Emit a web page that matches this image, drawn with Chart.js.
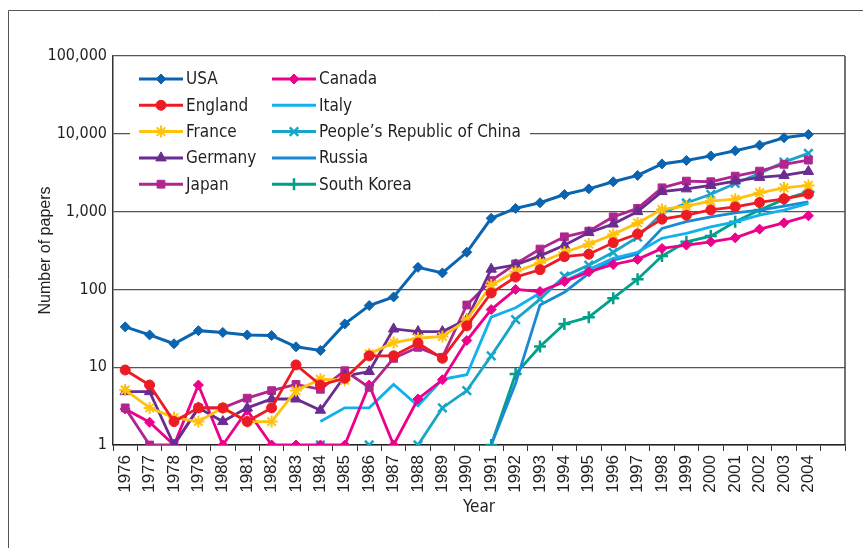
<!DOCTYPE html>
<html>
<head>
<meta charset="utf-8">
<script src="https://cdn.jsdelivr.net/npm/chart.js@4.4.1/dist/chart.umd.min.js"></script>
<style>
html, body { margin: 0; padding: 0; background: #fff; }
</style>
</head>
<body>
<canvas id="grafico" width="863" height="548"></canvas>
<script>
// Datos (1976-2004, la ultima categoria va vacia)
const anios = ['1976','1977','1978','1979','1980','1981','1982','1983','1984','1985','1986','1987','1988','1989','1990',
  '1991','1992','1993','1994','1995','1996','1997','1998','1999','2000','2001','2002','2003','2004',''];

const usa = [33, 26, 20, 29.5, 28, 26, 25.5, 18.3, 16.4, 36, 62, 80, 192, 163, 300,
  820, 1100, 1300, 1660, 1960, 2420, 2920, 4100, 4550, 5200, 6050, 7150, 8900, 9800];
const england = [9.2, 5.9, 2, 3, 3, 2, 3, 10.7, 5.9, 7.2, 14, 14, 20.4, 13, 34,
  90, 144, 179, 263, 283, 398, 515, 800, 900, 1050, 1150, 1310, 1460, 1680];
const france = [5.1, 3, 2.25, 2, 3, 2, 2, 5, 7, 6.8, 14.8, 20.7, 23.6, 24.8, 40.6,
  114, 170, 220, 300, 382, 507, 716, 1065, 1175, 1365, 1445, 1745, 2024, 2170];
const germany = [4.85, 4.85, 1, 3, 2, 3, 3.9, 3.9, 2.8, 7.7, 8.8, 31, 28.7, 28.7, 41,
  182, 207, 270, 369, 537, 692, 1000, 1810, 1960, 2170, 2470, 2750, 2920, 3280];
const japan = [3, 1, 1, 3, 3, 4, 5, 6, 5.2, 9, 5.5, 13, 18, 13.4, 63,
  130, 213, 330, 474, 561, 857, 1099, 2023, 2466, 2420, 2860, 3315, 4050, 4590];
const canada = [2.9, 1.96, 1, 5.9, 1, 2.8, 1, 1, 1, 1, 5.9, 1, 3.9, 6.9, 22,
  55, 100, 94, 126, 168, 209, 243, 336, 371, 409, 460, 595, 717, 883];
const italy = [null, null, null, null, null, null, null, null, 2, 3, 3, 6, 3.2, 7, 8,
  44, 58, 90, 128, 180, 250, 300, 455, 525, 638, 740, 900, 1046, 1274];
const china = [null, null, null, null, null, null, null, null, 1, null, 1, null, 1, 3, 5,
  14, 41, 75, 148, 205, 300, 470, 950, 1290, 1670, 2300, 3100, 4330, 5600];
const russia = [null, null, null, null, null, null, null, null, null, null, null, null, null, null, null,
  1, 6.2, 63, 92, 161, 238, 285, 608, 741, 857, 965, 1045, 1175, 1336];
const southKorea = [null, null, null, null, null, null, null, null, null, null, null, null, null, null, null,
  1, 8.2, 18.4, 36, 44, 77, 135, 268, 409, 484, 741, 1046, 1435, 1800];

const marcasY = [1, 10, 100, 1000, 10000, 100000];
const etiquetasY = ['1', '10', '100', '1,000', '10,000', '100,000'];

const estrecha = '"DejaVu Sans Condensed", sans-serif';
const normal = '"Liberation Sans", Arial, sans-serif';

function serie(nombre, datos, color, estilo, radio, borde) {
    return {
        label: nombre,
        data: datos,
        borderColor: color,
        backgroundColor: color,
        borderWidth: 2.8,
        pointStyle: estilo,
        pointRadius: radio,
        pointBorderWidth: borde,
        pointBackgroundColor: color,
        pointBorderColor: color,
        tension: 0,
        spanGaps: false
    };
}

// leyenda en dos columnas, dentro del area del grafico
const leyendaPlugin = {
    id: 'leyenda',
    afterDraw(chart) {
        const ctx = chart.ctx;
        ctx.save();
        ctx.fillStyle = '#fff';
        ctx.fillRect(130, 62, 400, 136);
        chart.data.datasets.forEach(function(ds, i) {
            const x0 = i < 5 ? 139 : 272;
            const y = 79 + (i % 5) * 26.3;
            ctx.strokeStyle = ds.borderColor;
            ctx.lineWidth = 3;
            ctx.beginPath();
            ctx.moveTo(x0, y);
            ctx.lineTo(x0 + 44, y);
            ctx.stroke();
            if (ds.pointRadius > 0) {
                ctx.fillStyle = ds.borderColor;
                ctx.lineWidth = ds.pointBorderWidth;
                Chart.helpers.drawPoint(ctx, {
                    pointStyle: ds.pointStyle, radius: ds.pointRadius,
                    borderWidth: ds.pointBorderWidth, rotation: 0
                }, x0 + 22, y);
            }
            ctx.fillStyle = '#231f20';
            ctx.font = '17px ' + estrecha;
            ctx.textBaseline = 'middle';
            ctx.textAlign = 'left';
            ctx.fillText(ds.label, x0 + 47, y + 1);
        });
        ctx.restore();
    }
};

const marcoPlugin = {
    id: 'marco',
    beforeDraw(chart) {
        const ctx = chart.ctx;
        ctx.save();
        ctx.fillStyle = '#fff';
        ctx.fillRect(0, 0, chart.width, chart.height);
        ctx.strokeStyle = '#555';
        ctx.lineWidth = 1;
        ctx.beginPath();
        ctx.moveTo(8.5, chart.height);
        ctx.lineTo(8.5, 10.5);
        ctx.lineTo(chart.width, 10.5);
        ctx.stroke();
        ctx.restore();
    },
    afterDraw(chart) {
        const a = chart.chartArea;
        const ctx = chart.ctx;
        ctx.save();
        ctx.strokeStyle = '#444';
        ctx.lineWidth = 1.5;
        ctx.beginPath();
        ctx.moveTo(a.right, a.top);
        ctx.lineTo(a.right, a.bottom);
        ctx.stroke();
        ctx.restore();
    }
};

const datasets = [
    serie('USA', usa, '#0a64b0', 'rectRot', 5, 1),
    serie('England', england, '#ed1c24', 'circle', 5, 1),
    serie('France', france, '#ffc20e', 'star', 6, 2),
    serie('Germany', germany, '#6a2c91', 'triangle', 6, 1),
    serie('Japan', japan, '#b0268f', 'rect', 5.5, 1),
    serie('Canada', canada, '#ec008c', 'rectRot', 5, 1),
    serie('Italy', italy, '#12b0ec', 'circle', 0, 0),
    serie('People\u2019s Republic of China', china, '#17a6c8', 'crossRot', 6, 2.5),
    serie('Russia', russia, '#1b8ad4', 'circle', 0, 0),
    serie('South Korea', southKorea, '#00a08a', 'cross', 6, 2.5)
];
datasets[0].borderWidth = 3;

const ctxGrafico = document.getElementById('grafico').getContext('2d');
new Chart(ctxGrafico, {
    type: 'line',
    data: { labels: anios, datasets: datasets },
    options: {
        responsive: false,
        animation: false,
        layout: { padding: { top: 56, right: 18, left: 0, bottom: 0 } },
        plugins: {
            legend: { display: false },
            tooltip: { enabled: false }
        },
        scales: {
            x: {
                type: 'category',
                offset: true,
                grid: { offset: true, drawOnChartArea: false, drawTicks: true, tickLength: 6, color: '#333', lineWidth: 1 },
                border: { display: true, color: '#222', width: 1.5 },
                ticks: {
                    autoSkip: false, minRotation: 90, maxRotation: 90, padding: 4,
                    color: '#231f20', font: { family: normal, size: 17 }
                },
                title: {
                    display: true, text: 'Year', color: '#231f20',
                    font: { family: estrecha, size: 17 }, padding: { top: 0, bottom: 30 }
                },
                afterFit(s) { s.height = 103; }
            },
            y: {
                type: 'logarithmic',
                min: 1,
                max: 100000,
                grid: { drawTicks: false, color: '#555', lineWidth: 1.3 },
                border: { display: true, color: '#333', width: 1.5 },
                afterBuildTicks(s) { s.ticks = marcasY.map(v => ({ value: v })); },
                ticks: {
                    padding: 6, color: '#231f20',
                    font: { family: estrecha, size: 16 },
                    callback: (v, i) => etiquetasY[i]
                },
                title: {
                    display: true, text: 'Number of papers', color: '#231f20',
                    font: { family: normal, size: 16 }, padding: { top: 36, bottom: 0 }
                },
                afterFit(s) { s.width = 113; }
            }
        }
    },
    plugins: [marcoPlugin, leyendaPlugin]
});
</script>
</body>
</html>
